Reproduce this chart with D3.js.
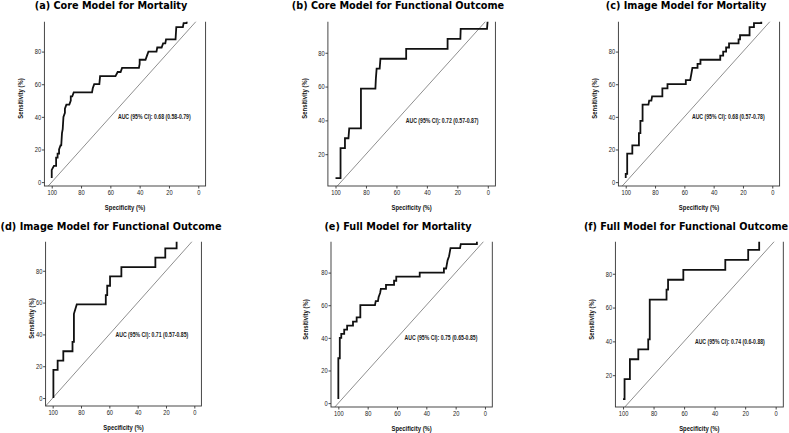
<!DOCTYPE html>
<html>
<head>
<meta charset="utf-8">
<script src="https://cdn.jsdelivr.net/npm/d3@7"></script>
<style>
body { margin: 0; background: #fff; }
</style>
</head>
<body>
<script>
// panel titles and AUC annotations
var titles = ['(a) Core Model for Mortality', '(b) Core Model for Functional Outcome', '(c) Image Model for Mortality',
              '(d) Image Model for Functional Outcome', '(e) Full Model for Mortality', '(f) Full Model for Functional Outcome'];
var aucLabels = ['AUC (95% CI): 0.68 (0.58-0.79)', 'AUC (95% CI): 0.72 (0.57-0.87)', 'AUC (95% CI): 0.68 (0.57-0.78)',
                 'AUC (95% CI): 0.71 (0.57-0.85)', 'AUC (95% CI): 0.75 (0.65-0.85)', 'AUC (95% CI): 0.74 (0.6-0.88)'];
var aucPos = [30, 40];   // specificity, sensitivity of the annotation

var xTicks = [100, 80, 60, 40, 20, 0];
var yTicks = [0, 20, 40, 60, 80];

// ROC curves, [specificity, sensitivity] in %
var curveA = [[100,2.5],[100,7.5],[98.5,10],[97,10],[97,15],[96,15],[96,17.5],[95,17.5],[95,20],[94,22.5],[93.5,22.5],[93,30],[92.5,32.5],
  [92,40],[91,42.5],[91,45],[90,47.5],[88,47.5],[87,50],[87,52.5],[86,52.5],[85,55],[72.5,55],[72,57.5],[71,60],[67.5,60],[67,65],
  [56.5,65],[55,67.5],[53,67.5],[52,70],[40.5,70],[40,72.5],[40,75],[36,75],[35,77.5],[34,80],[28.5,80],[28,82.5],[25,82.5],[24,85],
  [22.5,85],[22,87.5],[15.5,87.5],[15,95],[10.5,95],[10,97.5],[8,97.5],[7.5,100]];
var curveB = [[100,5.88],[96.7,5.88],[96.7,23.53],[93.8,23.53],[93.8,29.41],[91.5,29.41],[91,35.29],[83.3,35.29],[83.3,58.82],
  [73.8,58.82],[73.5,64.71],[73,70.59],[71,70.59],[70.5,76.47],[53.6,76.47],[53.6,82.35],[26.4,82.35],[26.4,88.24],[18,88.24],
  [17.8,94.12],[0.5,94.12],[0,100]];
var curveC = [[100,2.5],[100,5],[99,5],[99,17.5],[95.5,17.5],[95.5,22.5],[91,22.5],[91,30],[90,30],[90,37.5],[88.5,37.5],[88.5,47.5],
  [84.5,47.5],[84,50],[82.5,50],[82,52.5],[75,52.5],[75,57.5],[71.5,57.5],[71.5,60],[59,60],[59,62.5],[56,62.5],[55.5,65],[55,67.5],
  [54.5,70],[51,70],[51,72.5],[49,72.5],[49,75],[35.5,75],[35.5,77.5],[33.5,77.5],[33.5,80],[31.5,80],[31.5,82.5],[29.5,82.5],
  [29.5,85],[23,85],[23,87.5],[22,87.5],[22,90],[15.5,90],[15.5,95],[12.5,95],[12.5,97.5],[7.5,97.5],[7.5,100]];
var curveD = [[99.5,0],[99.5,17.65],[96.5,17.65],[96.5,23.53],[92.5,23.53],[92.5,29.41],[86,29.41],[86,35.29],[85,35.29],[85,52.94],
  [83,58.82],[62.5,58.82],[62.5,64.71],[61.5,64.71],[61.5,70.59],[59.5,70.59],[59.5,76.47],[51.5,76.47],[51.5,82.35],[27.5,82.35],
  [27.5,88.24],[20.5,88.24],[20.5,94.12],[12.5,94.12],[12.5,100]];
var curveE = [[100,2.5],[100,27.5],[99,27.5],[99,40],[98,40],[98,42.5],[96,42.5],[96,45],[94,45],[94,47.5],[90,47.5],[90,50],
  [87.5,50],[87.5,52.5],[85,52.5],[85,60],[75,60],[74.5,62.5],[73,62.5],[72.5,65],[71.5,67.5],[71,70],[67.5,70],[67.5,72.5],
  [62,72.5],[62,75],[60.5,75],[60.5,77.5],[44.5,77.5],[44.5,80],[28,80],[28,82.5],[26.5,82.5],[26,85],[25.5,87.5],[24.5,90],
  [23.5,95],[17,95],[16.5,97.5],[5.5,97.5],[5.5,100]];
var curveF = [[100,5.88],[99,5.88],[99,17.65],[95.5,17.65],[95.5,29.41],[90,29.41],[90,35.29],[83.5,35.29],[83.5,41.18],[82.5,41.18],
  [82.5,64.71],[71.5,64.71],[71.5,70.59],[70.5,70.59],[70.5,76.47],[60.5,76.47],[60.5,82.35],[33,82.35],[33,88.24],[18,88.24],
  [18,94.12],[10.8,94.12],[10.8,100]];
var curves = [curveA, curveB, curveC, curveD, curveE, curveF];

// where each panel sits on the page
var layout = [
  {L: 44.4,  R: 205.6, B: 186, top: 21.7,  ylab: 22.5,  tx: 111, ty: 9.3},
  {L: 327.9, R: 495.4, B: 186, top: 21.7,  ylab: 307.2, tx: 398, ty: 9.3},
  {L: 618.4, R: 779.6, B: 186, top: 21.7,  ylab: 596.8, tx: 686, ty: 9.3},
  {L: 45.6,  R: 201.4, B: 406, top: 241.7, ylab: 34.2,  tx: 111, ty: 230},
  {L: 331,   R: 492.3, B: 407, top: 241.7, ylab: 308.2, tx: 398, ty: 230},
  {L: 615.4, R: 783.3, B: 407, top: 241.7, ylab: 593.5, tx: 686, ty: 230}
];
var panelH = 175;
var sans = '"Liberation Sans", Arial, Helvetica, sans-serif';
var squeeze = 0.82;   // the source text is horizontally condensed

var svg = d3.select('body').append('svg').attr('width', 789).attr('height', 433);

for (var i = 0; i < 6; i++) {
  var lay = layout[i];
  var data = curves[i];

  var ext = d3.extent(data, function(d) { return d[1]; });
  var pad = (ext[1] - ext[0]) * 0.05;
  var x = d3.scaleLinear().domain([105, -5]).range([lay.L, lay.R]);
  var y = d3.scaleLinear().domain([ext[0] - pad, ext[1] + pad]).range([lay.B, lay.B - panelH]);
  var yDom = y.domain();
  var yShown = yTicks.filter(function(t) { return t >= yDom[0] && t <= yDom[1]; });

  svg.append('text')
      .attr('x', lay.tx).attr('y', lay.ty)
      .attr('text-anchor', 'middle')
      .style('font-family', '"DejaVu Sans", Verdana, sans-serif')
      .style('font-weight', 'bold')
      .style('font-size', '9.7px')
      .attr('fill', '#000')
      .text(titles[i]);

  svg.append('clipPath').attr('id', 'crop' + i)
    .append('rect').attr('x', 0).attr('y', lay.top).attr('width', 789).attr('height', 433 - lay.top);
  svg.append('clipPath').attr('id', 'plot' + i)
    .append('rect').attr('x', lay.L).attr('y', lay.B - panelH).attr('width', lay.R - lay.L).attr('height', panelH);

  var g = svg.append('g').attr('clip-path', 'url(#crop' + i + ')');
  var inner = g.append('g').attr('clip-path', 'url(#plot' + i + ')');

  // chance line
  inner.append('line')
      .attr('x1', x(105)).attr('y1', y(-5))
      .attr('x2', x(-5)).attr('y2', y(105))
      .attr('stroke', '#8f8f8f').attr('stroke-width', 1);

  var line = d3.line()
      .x(function(d) { return x(d[0]); })
      .y(function(d) { return y(d[1]); });

  inner.append('path')
      .attr('d', line(data))
      .attr('fill', 'none')
      .attr('stroke', '#111')
      .attr('stroke-width', 1.8);

  inner.append('text')
      .attr('transform', 'translate(' + x(aucPos[0]) + ',' + y(aucPos[1]) + ') scale(' + squeeze + ',1)')
      .attr('dy', '0.35em')
      .attr('text-anchor', 'middle')
      .style('font-family', sans)
      .style('font-weight', 'bold')
      .style('font-size', '6.3px')
      .attr('fill', '#1a1a1a')
      .text(aucLabels[i]);

  g.append('rect')
      .attr('x', lay.L).attr('y', lay.B - panelH)
      .attr('width', lay.R - lay.L).attr('height', panelH)
      .attr('fill', 'none').attr('stroke', '#333').attr('stroke-width', 0.9);

  var xAxis = g.append('g').attr('transform', 'translate(0,' + lay.B + ')')
      .call(d3.axisBottom(x).tickValues(xTicks).tickSize(2.5).tickPadding(1.5));
  var yAxis = g.append('g').attr('transform', 'translate(' + lay.L + ',0)')
      .call(d3.axisLeft(y).tickValues(yShown).tickSize(2.5).tickPadding(1.5));

  [xAxis, yAxis].forEach(function(ax) {
    ax.select('.domain').remove();
    ax.selectAll('line').attr('stroke', '#333').attr('stroke-width', 0.9);
    ax.selectAll('text')
      .attr('transform', 'scale(' + squeeze + ',1)')
      .style('font-family', sans)
      .style('font-size', '7px')
      .attr('fill', '#222');
  });

  svg.append('text')
      .attr('transform', 'translate(' + ((lay.L + lay.R) / 2) + ',' + (lay.B + 23.7) + ') scale(' + squeeze + ',1)')
      .attr('text-anchor', 'middle')
      .style('font-family', sans)
      .style('font-weight', 'bold')
      .style('font-size', '7.2px')
      .attr('fill', '#111')
      .text('Specificity (%)');

  svg.append('text')
      .attr('transform', 'translate(' + lay.ylab + ',' + (lay.B - panelH / 2) + ') rotate(-90) scale(' + squeeze + ',1)')
      .attr('text-anchor', 'middle')
      .style('font-family', sans)
      .style('font-weight', 'bold')
      .style('font-size', '7.2px')
      .attr('fill', '#111')
      .text('Sensitivity (%)');
}
</script>
</body>
</html>
